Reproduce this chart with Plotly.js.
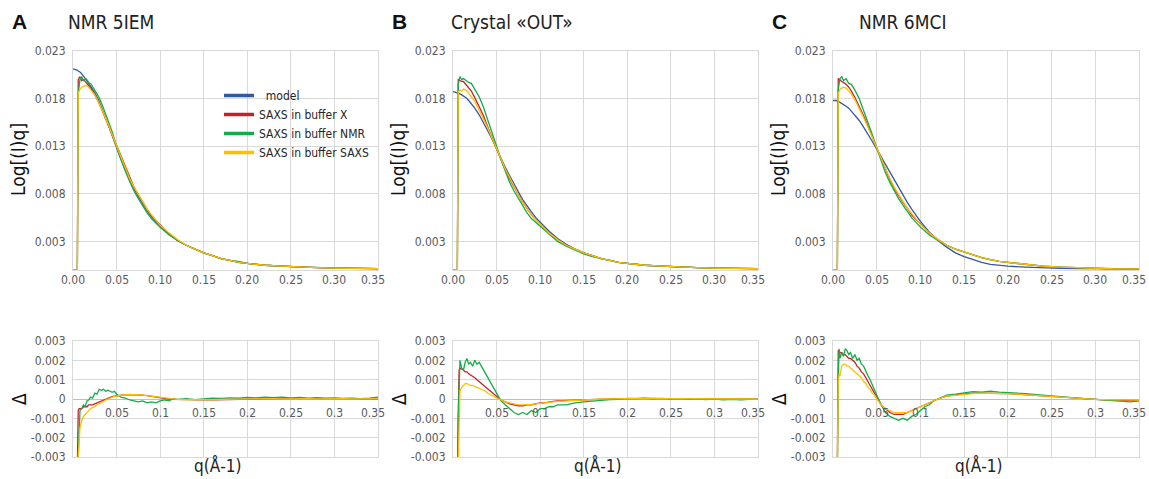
<!DOCTYPE html>
<html><head><meta charset="utf-8">
<script src="https://cdn.plot.ly/plotly-3.0.1.min.js"></script>
<style>html,body{margin:0;padding:0;background:#fff}</style>
</head><body><div id="chart" style="width:1149px;height:479px"></div>
<script>
// ---------- data ----------
const panelLetters = ['A','B','C'];
const panelTitles = ['NMR 5IEM','Crystal «OUT»','NMR 6MCI'];
const seriesNames = ['\u00a0\u00a0model','SAXS in buffer X','SAXS in buffer NMR','SAXS in buffer SAXS'];

const topXTicks = [0,0.05,0.10,0.15,0.20,0.25,0.30,0.35];
const topXLabels = ['0.00','0.05','0.10','0.15','0.20','0.25','0.30','0.35'];
const topYTicks = [0.003,0.008,0.013,0.018,0.023];
const topYLabels = ['0.003','0.008','0.013','0.018','0.023'];
const resXTicks = [0.05,0.1,0.15,0.2,0.25,0.3,0.35];
const resXLabels = ['0.05','0.1','0.15','0.2','0.25','0.3','0.35'];
const resYTicks = [-0.003,-0.002,-0.001,0,0.001,0.002,0.003];
const resYLabels = ['-0.003','-0.002','-0.001','0','0.001','0.002','0.003'];

const qTop = [0,.002,.004,.005,.006,.008,.010,.012,.015,.018,.021,.025,.030,.035,.040,.045,.050,.055,.060,.065,.070,.075,.080,.085,.090,.095,.100,.110,.120,.130,.140,.150,.160,.170,.180,.190,.200,.220,.240,.260,.280,.300,.320,.340,.350];

const modelA = [.0211,.0211,.0210,.0210,.0209,.0208,.0206,.0204,.0200,.0196,.0192,.0186,.0177,.0166,.0154,.0141,.0128,.0116,.0105,.0094,.0085,.0077,.0069,.0062,.0056,.0051,.0046,.0038,.0031,.0026,.0022,.0018,.0015,.0012,.0010,.0008,.0007,.0005,.0004,.0003,.00025,.0002,.00017,.00015,.00014];
const bufXA = [0,0,0,0,.0200,.0203,.0199,.0200,.0197,.0194,.0190,.0184,.0175,.0164,.0153,.0141,.0129,.0118,.0107,.0096,.0087,.0079,.0071,.0064,.0057,.0052,.0047,.0038,.0031,.0026,.0022,.0018,.0015,.0012,.0010,.0008,.0007,.0005,.0004,.0003,.00025,.0002,.00017,.00015,.00014];
const bufNmrA = [0,0,0,0,.0185,.0200,.0203,.0199,.0201,.0197,.0195,.0189,.0181,.0170,.0158,.0145,.0129,.0116,.0104,.0093,.0083,.0075,.0067,.0060,.0054,.0049,.0045,.0037,.0031,.0026,.0022,.0018,.0015,.0012,.0010,.0009,.0007,.0005,.0004,.0003,.00028,.0002,.0002,.00016,.00015];
const bufSaxsA = [0,0,0,0,.0186,.0190,.0192,.0193,.0194,.0192,.0189,.0184,.0175,.0165,.0154,.0142,.0130,.0118,.0107,.0096,.0087,.0079,.0071,.0064,.0058,.0052,.0047,.0039,.0032,.0026,.0022,.0018,.0015,.0012,.0010,.0008,.0007,.0005,.0004,.0003,.00025,.0002,.00017,.00015,.00014];

const modelB = [.0187,.0187,.0186,.0186,.0186,.0185,.0184,.0183,.0181,.0178,.0175,.0170,.0163,.0155,.0146,.0137,.0127,.0117,.0108,.0099,.0090,.0082,.0074,.0067,.0061,.0055,.0050,.0041,.0033,.0027,.0022,.0018,.0015,.0012,.0010,.0008,.0007,.0005,.0004,.0003,.00025,.0002,.00017,.00015,.00014];
const bufXB = [0,0,0,0,.0200,.0199,.0198,.0198,.0195,.0192,.0188,.0181,.0171,.0162,.0150,.0139,.0127,.0117,.0105,.0096,.0087,.0079,.0071,.0064,.0058,.0053,.0048,.0039,.0032,.0026,.0022,.0018,.0015,.0012,.0010,.0008,.0007,.0005,.0004,.0003,.00025,.0002,.00017,.00015,.00014];
const bufNmrB = [0,0,0,0,.0195,.0203,.0200,.0201,.0199,.0197,.0196,.0190,.0182,.0171,.0158,.0144,.0130,.0116,.0103,.0092,.0083,.0075,.0067,.0060,.0054,.0050,.0045,.0037,.0030,.0025,.0021,.0017,.0014,.0012,.0010,.0008,.0007,.0005,.0004,.0003,.00025,.0002,.00018,.00015,.00015];
const bufSaxsB = [0,0,0,0,.0187,.0189,.0188,.0190,.0189,.0186,.0182,.0177,.0168,.0159,.0149,.0138,.0128,.0117,.0106,.0097,.0087,.0079,.0071,.0064,.0058,.0053,.0048,.0039,.0032,.0026,.0022,.0018,.0015,.0012,.0010,.0008,.0007,.0005,.0004,.0003,.00025,.0002,.00017,.00015,.00014];

const modelC = [.0178,.0178,.0178,.0177,.0177,.0176,.0175,.0174,.0172,.0170,.0167,.0163,.0157,.0150,.0143,.0135,.0127,.0119,.0111,.0102,.0094,.0086,.0078,.0071,.0064,.0057,.0051,.0040,.0031,.0024,.0018,.0014,.0011,.0008,.0006,.0005,.0004,.0003,.0002,.00017,.00015,.00014,.00013,.00013,.00013];
const bufXC = [0,0,0,0,.0201,.0199,.0198,.0197,.0195,.0192,.0188,.0181,.0172,.0162,.0151,.0140,.0128,.0117,.0105,.0095,.0086,.0078,.0071,.0065,.0058,.0053,.0048,.0039,.0032,.0026,.0022,.0019,.0016,.0013,.0011,.0009,.0008,.0006,.0004,.0003,.00022,.00016,.00013,.00012,.00012];
const bufNmrC = [0,0,0,0,.0190,.0201,.0203,.0199,.0201,.0196,.0195,.0189,.0180,.0168,.0155,.0142,.0128,.0114,.0102,.0092,.0083,.0075,.0068,.0061,.0055,.0050,.0045,.0037,.0031,.0026,.0022,.0019,.0016,.0013,.0011,.0009,.0008,.0006,.0004,.0003,.00022,.00016,.00012,.0001,.0001];
const bufSaxsC = [0,0,0,0,.0185,.0190,.0191,.0192,.0191,.0188,.0185,.0179,.0170,.0160,.0150,.0139,.0128,.0117,.0106,.0096,.0087,.0079,.0072,.0065,.0059,.0053,.0048,.0039,.0032,.0026,.0022,.0019,.0016,.0013,.0011,.0009,.0008,.0006,.0004,.0003,.00022,.00016,.00013,.00012,.00012];

const qRes = [.004,.005,.006,.007,.008,.010,.012,.014,.016,.018,.020,.0225,.025,.0275,.030,.0325,.035,.0375,.040,.0425,.045,.0475,.050,.055,.060,.065,.070,.075,.080,.085,.090,.095,.100,.105,.110,.115,.120,.130,.140,.150,.160,.170,.180,.190,.200,.210,.220,.230,.240,.250,.260,.270,.280,.290,.300,.310,.320,.330,.340,.350];

const resXA = [-.0040,-.0035,-.0006,-.0005,-.0005,-.0005,-.0004,-.0004,-.0004,-.0003,-.0003,-.0003,-.00025,-.0002,-.00015,-.0001,-.00005,0,.00005,.0001,.00012,.00015,.00017,.0002,.00022,.00023,.00023,.00022,.0002,.00017,.00013,.0001,.00006,.00003,0,-.00002,-.00003,-.00004,-.00005,-.00005,-.00004,-.00003,-.00002,-.00001,0,.00001,.00002,.00002,.00002,.00002,.00002,.00002,.00001,.00001,.00001,0,0,0,0,.00001];
const resNmrA = [-.0040,-.0040,-.0030,-.0012,-.0006,-.0005,-.0003,-.0004,-.0001,-.00005,.0001,.00005,.0003,.00025,.0005,.00045,.0005,.0004,.00045,.0004,.00035,.0004,.00025,.0001,.00005,-.00005,-.0001,-.00015,-.0001,-.0002,-.00015,-.0002,-.0001,-.00005,-.0001,.00002,-.00002,.00002,-.00003,.00002,.00004,.00003,.00006,.00004,.00008,.00006,.00009,.00007,.0001,.00006,.00008,.00005,.00007,.00004,.00006,.00003,.00005,.00002,.00004,.0001];
const resSaxsA = [-.0040,-.0040,-.0030,-.0017,-.0015,-.0011,-.0009,-.0008,-.0007,-.0006,-.0005,-.00045,-.0004,-.0003,-.00025,-.0002,-.00012,-.00005,0,.00005,.0001,.00013,.00015,.0002,.00022,.00024,.00024,.00023,.0002,.00017,.00013,.0001,.00007,.00004,.00001,-.00001,-.00002,-.00003,-.00004,-.00004,-.00003,-.00002,-.00001,0,0,.00001,.00001,.00002,.00001,.00002,.00001,.00002,.00001,.00002,.00001,.00002,.00001,.00002,.00001,.00002];

const resXB = [-.0040,-.0040,-.0010,.0015,.0016,.00155,.0015,.0014,.0014,.0013,.00125,.0012,.0011,.0010,.0009,.0008,.0007,.0006,.0005,.0004,.0003,.0002,.0001,-.00005,-.00015,-.00025,-.0003,-.00035,-.00035,-.0003,-.0003,-.00025,-.0002,-.0002,-.00015,-.00012,-.0001,-.00008,-.00005,-.00003,-.00002,0,.00001,.00002,.00002,.00003,.00002,.00003,.00002,.00002,.00001,.00002,.00001,.00001,0,0,.00001,0,.00001,0];
const resNmrB = [-.0040,-.0040,-.0010,.0012,.0020,.0016,.0015,.0019,.0021,.0018,.0019,.0017,.0020,.0018,.0019,.0017,.0015,.0013,.0011,.0009,.0007,.0005,.0003,-.0001,-.0003,-.0005,-.0007,-.0008,-.0007,-.0008,-.0006,-.0007,-.0005,-.0005,-.0004,-.0004,-.0003,-.0003,-.0002,-.00015,-.0001,-.00008,-.00003,-.00002,.00003,.00002,.00005,.00001,.00003,-.00001,.00002,-.00002,.00001,-.00003,-.00001,-.00004,-.00002,-.00005,-.00003,.00001];
const resSaxsB = [-.0040,-.0040,-.0040,-.0015,.0004,.0006,.0007,.0008,.0008,.00075,.0007,.0007,.00065,.0006,.00055,.0005,.00045,.0004,.0003,.00025,.0002,.00012,.00005,-.00005,-.00015,-.0002,-.00025,-.0003,-.0003,-.0003,-.00028,-.00025,-.00022,-.0002,-.00017,-.00015,-.00012,-.0001,-.00007,-.00004,-.00002,0,.00001,.00002,.00002,.00002,.00003,.00002,.00002,.00002,.00001,.00001,.00001,0,0,0,0,0,0,0];

const resXC = [-.0040,-.0030,.0025,.0025,.0024,.0024,.0023,.0023,.0022,.0021,.0021,.0020,.0019,.0017,.0016,.0014,.0013,.0011,.0009,.0007,.0005,.0003,.0001,-.0003,-.0005,-.0007,-.0008,-.0008,-.0008,-.0007,-.0006,-.0005,-.0004,-.0003,-.0002,-.0001,0,.00015,.00022,.00027,.0003,.0003,.0003,.0003,.00028,.00025,.00022,.00018,.00014,.0001,.00007,.00004,.00001,-.00001,-.00003,-.00005,-.00006,-.00007,-.00008,-.00008];
const resNmrC = [-.0040,-.0040,.0010,.0026,.0021,.0024,.0022,.0026,.0025,.0023,.0024,.0021,.0023,.0020,.0021,.0018,.0017,.0014,.0012,.0010,.0007,.0004,.0002,-.0003,-.0007,-.0009,-.0010,-.0011,-.0010,-.0011,-.0009,-.0008,-.0006,-.0004,-.0003,-.0001,0,.0002,.00025,.0003,.00038,.00035,.0004,.00036,.00034,.0003,.00028,.00024,.0002,.00015,.0001,.00008,.00003,.00001,-.00002,-.00005,-.00008,-.0001,-.00015,-.0001];
const resSaxsC = [-.0040,-.0035,.0008,.0013,.0012,.0017,.0018,.0018,.0017,.0017,.0016,.0015,.0014,.0013,.0012,.0011,.0009,.0008,.0006,.0005,.0003,.0002,0,-.0003,-.0005,-.0006,-.0007,-.0007,-.0007,-.0007,-.0006,-.0005,-.0004,-.0003,-.0002,-.0001,0,.00015,.0002,.00025,.00028,.0003,.0003,.0003,.00028,.00025,.00022,.00018,.00014,.0001,.00007,.00004,.00002,0,-.00002,-.00003,-.00004,-.00005,-.00006,-.00006];

// ---------- styling / layout ----------
const W = 1149, H = 479;
const colors = ['#3358a4','#c8202a','#12ad4b','#ffbf00'];
const narrow = '"DejaVu Sans Condensed", "Liberation Sans Narrow", sans-serif';
const gridC = '#d9d9d9';
const px = v => v / W, py = v => 1 - v / H;

const panelsTop = [[modelA,bufXA,bufNmrA,bufSaxsA],[modelB,bufXB,bufNmrB,bufSaxsB],[modelC,bufXC,bufNmrC,bufSaxsC]];
const panelsRes = [[resXA,resNmrA,resSaxsA],[resXB,resNmrB,resSaxsB],[resXC,resNmrC,resSaxsC]];

const xPix = [[73,378],[453,758],[833,1139]];
const topPix = [51,270], resPix = [341,457];

const traces = [];
const layout = {
  width: W, height: H, margin: {l:0,r:0,t:0,b:0},
  paper_bgcolor: '#fff', plot_bgcolor: '#fff', showlegend: true,
  legend: {x: px(219), y: py(81), xanchor:'left', yanchor:'top', bgcolor:'rgba(0,0,0,0)',
           font:{family:narrow, size:12, color:'#262626'}, tracegroupgap:0, itemwidth:30},
  annotations: []
};

const tickFont = {family: narrow, size: 12, color: '#595959'};

function tickAnnotations(vals, labels, xr, yr, yv, yshift) {
  vals.forEach((v, k) => {
    const last = k === vals.length - 1;
    layout.annotations.push({xref: xr, yref: yr, x: v, y: yv, yanchor: 'top',
      xanchor: last ? 'right' : 'center', xshift: last ? 9 : 0,
      yshift: yshift, text: labels[k], showarrow: false, font: tickFont});
  });
}

for (let p = 0; p < 3; p++) {
  const nT = 2*p + 1, nR = 2*p + 2;
  const xd = [px(xPix[p][0]), px(xPix[p][1])];
  layout['xaxis' + nT] = {domain: xd, anchor: 'y' + nT, range: [0, 0.35], tickvals: topXTicks,
    showticklabels: false, showgrid: true, gridcolor: gridC, gridwidth: 1, zeroline: false, showline: true,
    linecolor: gridC, mirror: true, ticks: '', fixedrange: true};
  layout['yaxis' + nT] = {domain: [py(topPix[1]), py(topPix[0])], anchor: 'x' + nT, range: [0, 0.023],
    tickvals: topYTicks, ticktext: topYLabels, showgrid: true, gridcolor: gridC, zeroline: false, showline: true,
    linecolor: gridC, mirror: true, ticks: '', tickfont: tickFont, ticklabelstandoff: 4, ticklabeloverflow: 'allow', fixedrange: true};
  layout['xaxis' + nR] = {domain: xd, anchor: 'y' + nR, range: [0, 0.35], tickvals: [0].concat(resXTicks),
    showticklabels: false, showgrid: true, gridcolor: gridC, zeroline: false, showline: true, linecolor: gridC,
    mirror: true, ticks: '', fixedrange: true};
  layout['yaxis' + nR] = {domain: [py(resPix[1]), py(resPix[0])], anchor: 'x' + nR, range: [-0.003, 0.003],
    tickvals: resYTicks, ticktext: resYLabels, showgrid: true, gridcolor: gridC, zeroline: true,
    zerolinecolor: '#bfbfbf', zerolinewidth: 1, showline: true, linecolor: gridC, mirror: true, ticks: '',
    tickfont: tickFont, ticklabelstandoff: 4, ticklabeloverflow: 'allow', fixedrange: true};

  panelsTop[p].forEach((ys, i) => {
    traces.push({type:'scatter', mode:'lines', x: qTop, y: ys, xaxis:'x'+nT, yaxis:'y'+nT,
      line:{color: colors[i], width: 1.3}, showlegend:false, hoverinfo:'skip'});
  });
  panelsRes[p].forEach((ys, i) => {
    traces.push({type:'scatter', mode:'lines', x: qRes, y: ys, xaxis:'x'+nR, yaxis:'y'+nR,
      line:{color: colors[i+1], width: 1.3}, showlegend:false, hoverinfo:'skip'});
  });

  // x tick labels: top panel under its bottom edge, residual panel under the zero line
  tickAnnotations(topXTicks, topXLabels, 'x'+nT, 'y'+nT, 0, -1);
  tickAnnotations(resXTicks, resXLabels, 'x'+nR, 'y'+nR, 0, -5);

  const left = xPix[p][0];
  layout.annotations.push({xref:'paper', yref:'paper', x: px(left - 63), y: py(22), xanchor:'left', yanchor:'middle',
    text: '<b>' + panelLetters[p] + '</b>', showarrow:false, font:{family:'Liberation Sans, Arial, sans-serif', size:21, color:'#111'}});
  const titleLeft = [66, 449, 857][p];
  layout.annotations.push({xref:'paper', yref:'paper', x: px(titleLeft), y: py(22), xanchor:'left', yanchor:'middle',
    text: panelTitles[p], showarrow:false, font:{family:narrow, size:19, color:'#222'}});
  layout.annotations.push({xref:'paper', yref:'paper', x: px(left - 55), y: py(160), xanchor:'center', yanchor:'middle',
    text: 'Log[(I)q]', textangle:-90, showarrow:false, font:{family:narrow, size:19, color:'#111'}});
  layout.annotations.push({xref:'paper', yref:'paper', x: px(left - 54), y: py(399), xanchor:'center', yanchor:'middle',
    text: 'Δ', textangle:-90, showarrow:false, font:{family:narrow, size:19, color:'#111'}});
  layout.annotations.push({xref:'paper', yref:'paper', x: px((xPix[p][0] + xPix[p][1]) / 2 - 8), y: py(478), xanchor:'center', yanchor:'bottom',
    text: 'q(Å-1)', showarrow:false, font:{family:narrow, size:17, color:'#222'}});
}

seriesNames.forEach((name, i) => {
  traces.push({type:'scatter', mode:'lines', x:[null], y:[null], xaxis:'x1', yaxis:'y1', name: name,
    line:{color: colors[i], width: 3.5}, showlegend:true, hoverinfo:'skip'});
});

Plotly.newPlot('chart', traces, layout, {staticPlot: true, displayModeBar: false});
</script>
</body></html>
